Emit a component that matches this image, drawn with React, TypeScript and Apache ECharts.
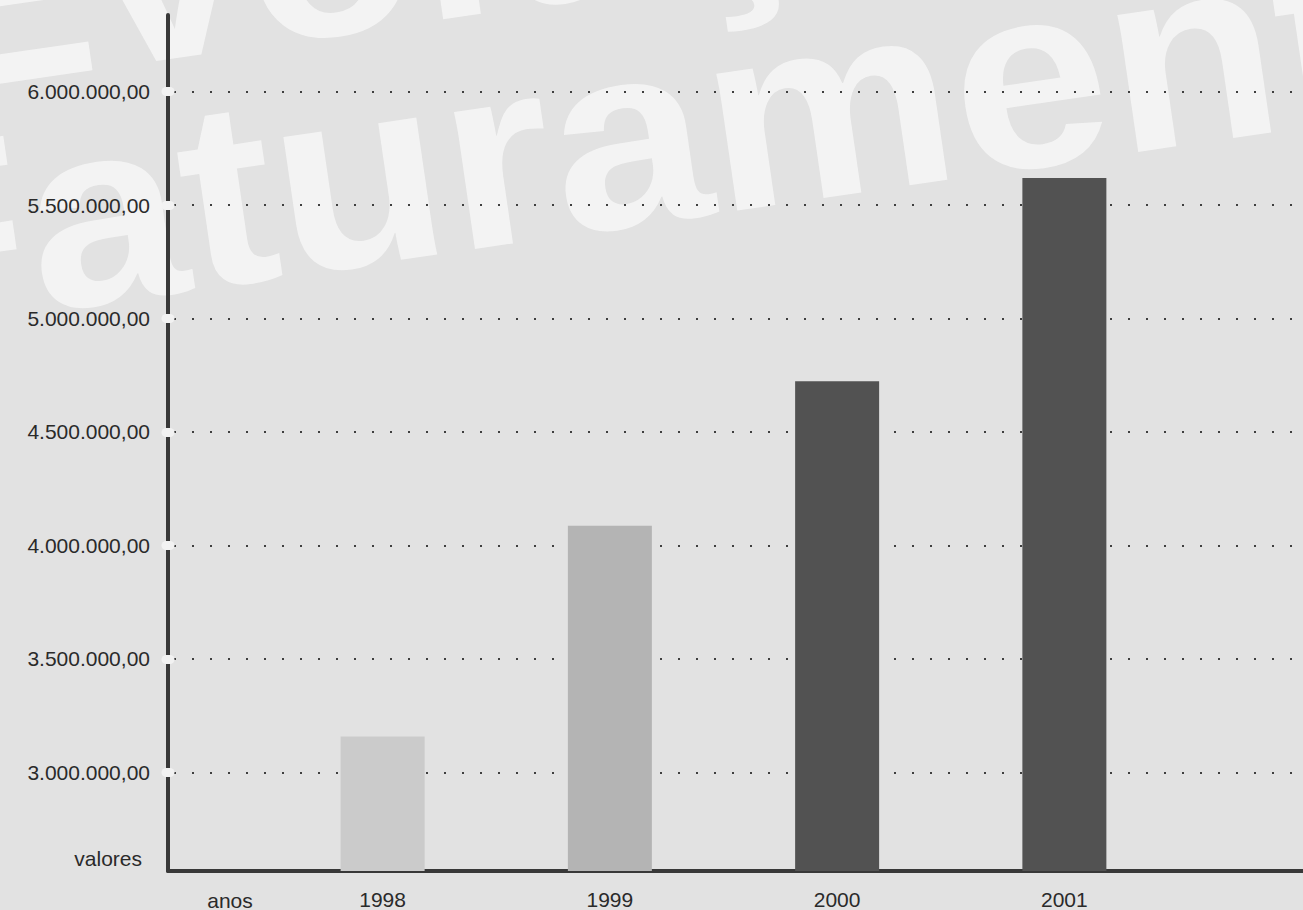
import React, { useEffect, useRef } from "react";
import * as echarts from "echarts";

const years = ["1998", "1999", "2000", "2001"];
const revenue = [3158000, 4087000, 4724000, 5620000];
const barColors = ["#cbcbcb", "#b4b4b4", "#525252", "#525252"];
const yTicks = [3000000, 3500000, 4000000, 4500000, 5000000, 5500000, 6000000];
const yMin = 2565000;
const yMax = 6338000;
const yName = "valores";
const xName = "anos";
const watermark = ["Evolução", "Faturamento"];

function fmtBR(v: number): string {
  const int = Math.floor(v).toString();
  const withDots = int.replace(/\B(?=(\d{3})+(?!\d))/g, ".");
  return withDots + ",00";
}

export default function App() {
  const ref = useRef<HTMLDivElement>(null);

  useEffect(() => {
    if (!ref.current) return;
    const chart = echarts.init(ref.current, null, { renderer: "svg" });
    const font = "'Liberation Sans', Arial, Helvetica, sans-serif";
    const wmStyle = {
      font: `bold 262px ${font}`,
      fill: "rgba(250,250,250,0.72)",
    };
    const option: any = {
      animation: false,
      backgroundColor: "#e2e2e2",
      graphic: [
        {
          type: "text",
          x: -112,
          y: -124,
          rotation: 0.145,
          scaleX: 1.06,
          z: -100,
          silent: true,
          style: { ...wmStyle, text: watermark[0] },
        },
        {
          type: "text",
          x: -162,
          y: 118,
          rotation: 0.145,
          scaleX: 1.07,
          z: -100,
          silent: true,
          style: { ...wmStyle, text: watermark[1] },
        },
        {
          type: "text",
          x: 142,
          y: 858,
          z: 50,
          style: {
            text: yName,
            font: `21px ${font}`,
            fill: "#2a2a2a",
            textAlign: "right",
            textVerticalAlign: "middle",
          },
        },
        {
          type: "text",
          x: 230,
          y: 900,
          z: 50,
          style: {
            text: xName,
            font: `21px ${font}`,
            fill: "#2a2a2a",
            textAlign: "center",
            textVerticalAlign: "middle",
          },
        },
      ],
      grid: [
        { left: 168, right: 0, top: 15, bottom: 39 },
        { left: 269, width: 909, top: 15, bottom: 39 },
      ],
      xAxis: [
        {
          type: "value",
          gridIndex: 0,
          min: 0,
          max: 1,
          axisLine: { show: true, onZero: false, lineStyle: { color: "#383838", width: 4 } },
          axisTick: { show: false },
          axisLabel: { show: false },
          splitLine: { show: false },
        },
        {
          type: "category",
          gridIndex: 1,
          data: years,
          axisLine: { show: false },
          axisTick: { show: false },
          axisLabel: {
            color: "#2a2a2a",
            fontSize: 21,
            fontFamily: font,
            margin: 18,
          },
          splitLine: { show: false },
        },
      ],
      yAxis: [
        {
          type: "value",
          gridIndex: 0,
          min: yMin,
          max: yMax,
          axisLine: { show: true, onZero: false, lineStyle: { color: "#383838", width: 4 } },
          axisTick: { show: false, customValues: yTicks },
          axisLabel: {
            customValues: yTicks,
            formatter: (v: number) => fmtBR(v),
            color: "#2a2a2a",
            fontSize: 21,
            fontFamily: font,
            margin: 18,
          },
          splitLine: {
            show: true,
            showMinLine: true,
            showMaxLine: true,
            lineStyle: { color: "#3e3e3e", width: 2, type: [2, 16], dashOffset: -6 },
          },
        },
        {
          type: "value",
          gridIndex: 0,
          min: yMin,
          max: yMax,
          position: "left",
          offset: -2,
          axisLine: { show: false },
          axisLabel: { show: false, customValues: yTicks },
          axisTick: {
            show: true,
            customValues: yTicks,
            length: 4,
            lineStyle: { color: "#f2f2f2", width: 9, cap: "round" },
          },
          splitLine: { show: false },
        },
        {
          type: "value",
          gridIndex: 1,
          min: yMin,
          max: yMax,
          show: false,
          splitLine: { show: false },
        },
      ],
      series: [
        {
          type: "bar",
          xAxisIndex: 1,
          yAxisIndex: 2,
          barWidth: 84,
          z: 5,
          data: revenue.map((v, i) => ({ value: v, itemStyle: { color: barColors[i] } })),
        },
      ],
    };
    chart.setOption(option);
    return () => chart.dispose();
  }, []);

  return (
    <div
      ref={ref}
      style={{ position: "fixed", left: 0, top: 0, width: 1303, height: 910 }}
    />
  );
}
